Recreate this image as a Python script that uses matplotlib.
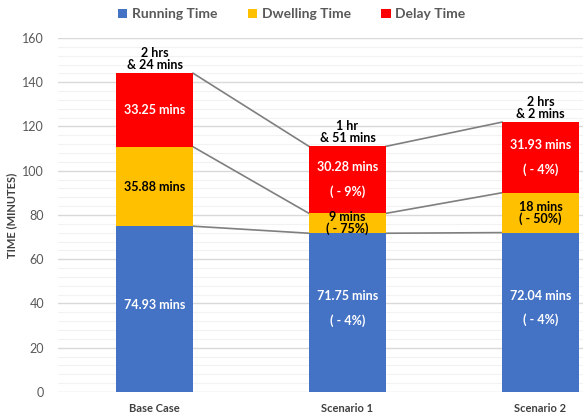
import matplotlib
matplotlib.use("Agg")
import matplotlib.pyplot as plt
import numpy as np

# data
cases = ['Base Case', 'Scenario 1', 'Scenario 2']
running = [74.93, 71.75, 72.04]
dwelling = [35.88, 9, 18]
delay = [33.25, 30.28, 31.93]
running_lbl = ['74.93 mins', '71.75 mins\n\n( - 4%)', '72.04 mins\n\n( - 4%)']
dwelling_lbl = ['35.88 mins', '9 mins\n( - 75%)', '18 mins\n( - 50%)']
delay_lbl = ['33.25 mins', '30.28 mins\n\n( - 9%)', '31.93 mins\n\n( - 4%)']
total_lbl = ['2 hrs\n& 24 mins', '1 hr\n& 51 mins', '2 hrs\n& 2 mins']

plt.rcParams['font.family'] = ['Lato', 'DejaVu Sans']

fig = plt.figure(figsize=(5.83, 4.16), dpi=100)
ax = fig.add_axes([0.0995, 0.0577, 0.9005, 0.851])

x = np.arange(len(cases))
w = 0.4
blue, yellow, red = '#4472C4', '#FFC000', '#FF0000'

running = np.array(running)
dwelling = np.array(dwelling)
delay = np.array(delay)
b1 = running
b2 = running + dwelling
b3 = b2 + delay

ax.bar(x, running, w, color=blue, label='Running Time', zorder=3)
ax.bar(x, dwelling, w, bottom=b1, color=yellow, label='Dwelling Time', zorder=3)
ax.bar(x, delay, w, bottom=b2, color=red, label='Delay Time', zorder=3)

# connector lines between bars
for lvl in [b1, b2, b3]:
    for i in range(len(x) - 1):
        ax.plot([x[i] + w / 2, x[i + 1] - w / 2], [lvl[i], lvl[i + 1]],
                color='#7f7f7f', lw=1.2, zorder=2)

# segment labels
for i in range(len(x)):
    ax.text(x[i], running[i] / 2 + 2, running_lbl[i], ha='center', va='center',
            color='white', fontsize=9, fontweight='bold', zorder=4, linespacing=1.0)
    ax.text(x[i], b1[i] + dwelling[i] / 2, dwelling_lbl[i], ha='center', va='center',
            color='black', fontsize=9, fontweight='bold', zorder=4, linespacing=0.95)
    ax.text(x[i], b2[i] + delay[i] / 2, delay_lbl[i], ha='center', va='center',
            color='white', fontsize=9, fontweight='bold', zorder=4, linespacing=1.0)
    ax.text(x[i], b3[i] + 1, total_lbl[i], ha='center', va='bottom',
            color='black', fontsize=9, fontweight='bold', zorder=4, linespacing=1.0)

ax.set_ylim(0, 160)
ax.set_xlim(-0.5, 2.22)
ax.set_yticks(np.arange(0, 161, 20))
ax.set_yticks(np.arange(0, 161, 4), minor=True)
ax.grid(axis='y', which='major', color='#d9d9d9', lw=1, zorder=0)
ax.grid(axis='y', which='minor', color='#f2f2f2', lw=0.8, zorder=0)
ax.set_xticks(x)
ax.set_xticklabels(cases, fontsize=8, fontweight='bold', color='#404040')
ax.tick_params(axis='y', which='both', length=0, labelsize=9, labelcolor='#595959', pad=10)
ax.tick_params(axis='x', length=0, pad=8)
for s in ax.spines.values():
    s.set_visible(False)
ax.set_ylabel('TIME (MINUTES)', fontsize=8, fontweight='bold', color='#404040', labelpad=4)

fig.legend(loc='upper center', bbox_to_anchor=(0.5, 1.01), ncol=3, frameon=False,
           prop={'size': 10, 'weight': 'bold'}, labelcolor='#595959',
           handlelength=0.7, handleheight=0.7, handletextpad=0.3, columnspacing=2.2)

fig.savefig('out.png', dpi=100)
